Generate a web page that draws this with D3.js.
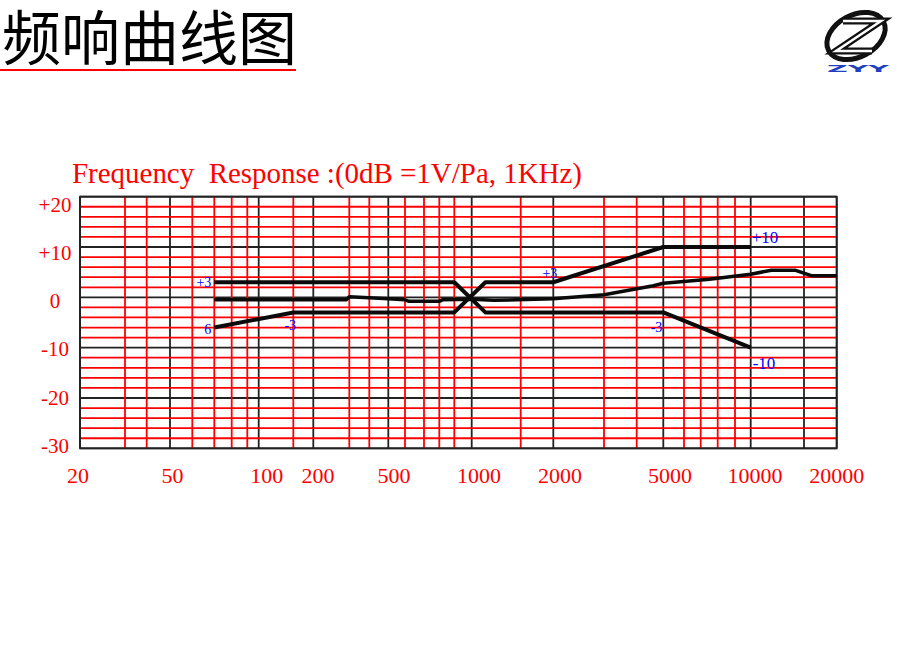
<!DOCTYPE html>
<html><head><meta charset="utf-8">
<script src="https://cdn.jsdelivr.net/npm/d3@7/dist/d3.min.js"></script>
<style>
html,body{margin:0;padding:0;background:#fff;}
svg{display:block;}
</style></head>
<body>
<script>
// ---------------- DATA ----------------
const pageTitle = "频响曲线图";
const chartTitle = "Frequency  Response :(0dB =1V/Pa, 1KHz)";
const logoText = "ZYY";

// x tick labels (Hz)
const xTickLabels = [20, 50, 100, 200, 500, 1000, 2000, 5000, 10000, 20000];
// y tick labels (dB)
const yTicks = [20, 10, 0, -10, -20, -30];
const yTickLabels = ["+20", "+10", "0", "-10", "-20", "-30"];

// vertical grid frequencies: major (black) and minor (red)
const gridFreqs = [20, 30, 40, 50, 60, 70, 80, 90, 100, 150, 200, 300, 400, 500, 600, 700, 800, 900,
  1000, 1500, 2000, 3000, 4000, 5000, 6000, 7000, 8000, 9000, 10000, 15000, 20000];
const majorFreqs = [20, 50, 100, 200, 500, 1000, 2000, 5000, 10000, 15000, 20000];
// horizontal grid every 2 dB, black every 10 dB
const gridDb = d3.range(-30, 21, 2);

// tolerance line A (starts +3, ends -10)
const lineAFreq = [70, 900, 1120, 5000, 10000];
const lineADb   = [3, 3, -3, -3, -10];
// tolerance line B (starts -6, ends +10)
const lineBFreq = [70, 150, 900, 1120, 2000, 5000, 10000];
const lineBDb   = [-6, -3, -3, 3, 3, 10, 10];
// measured response
const respFreq = [70, 290, 300, 500, 600, 620, 800, 820, 1000, 1200, 2000, 3000, 4600, 5000, 7500, 10000, 11700, 14000, 16000, 20000];
const respDb   = [-0.5, -0.5, 0.1, -0.3, -0.5, -0.8, -0.8, -0.5, -0.4, -0.6, -0.3, 0.5, 2.3, 2.8, 3.6, 4.6, 5.4, 5.4, 4.3, 4.3];

// blue annotations
const noteText = ["+3", "6", "-3", "+3", "+10", "-3", "-10"];
const noteFreq = [70, 70, 150, 2000, 10000, 5000, 10000];
const noteDb   = [3, -6, -3, 3, 10, -3, -10];

// ---------------- LAYOUT ----------------
const W = 899, H = 663;
const plot = {left: 80, right: 836.7, top: 196.7, bottom: 448.3};
// pixel position of each vertical grid line in the (non-uniform) printed grid
const gridPx = [80, 125, 146.7, 170, 192.3, 214.3, 231.7, 247.3, 258.7, 293.3, 313.3, 349.3, 369.3, 388.3,
  405, 424, 439.3, 454.3, 471.7, 520.7, 553.3, 604, 636.7, 663.3, 684, 700.7, 717.7, 735, 750.7, 804, 836.7];
// x label horizontal nudges
const xLabelDx = [-2, 2.5, 8, 4.7, 5.7, 7.3, 6.7, 6.7, 4.3, 0];
// note label offsets [dx, dy, anchor, size]
const noteStyle = [[-3, 5, "end", 14], [-3, 6, "end", 14], [-3, 18, "middle", 14], [4, -4, "end", 14],
  [1, -4, "start", 17], [-1, 20, "end", 14], [2, 21, "start", 17]];

const svg = d3.select("body").append("svg").attr("width", W).attr("height", H);

const x = d3.scaleLog().domain(gridFreqs).range(gridPx);
const y = d3.scaleLinear().domain([-30, 20]).range([plot.bottom, plot.top]);
const yLab = d3.scaleLinear().domain([-30, 20]).range([453, 211.7]);

// page title
svg.append("text").attr("x", 2).attr("y", 60)
  .attr("font-family", "'Noto Sans CJK SC', sans-serif").attr("font-size", 59)
  .attr("fill", "#000").text(pageTitle);
svg.append("line").attr("x1", 0).attr("x2", 296).attr("y1", 70).attr("y2", 70)
  .attr("stroke", "#ff0000").attr("stroke-width", 2);

// logo
const logo = svg.append("g");
logo.append("ellipse").attr("cx", 856).attr("cy", 36).attr("rx", 31).attr("ry", 21)
  .attr("transform", "rotate(-28 856 36)")
  .attr("fill", "none").attr("stroke", "#111").attr("stroke-width", 5);
const zPath = "M843,21 L881,21 L836,51 L872,51";
logo.append("path").attr("d", zPath).attr("fill", "none").attr("stroke", "#111")
  .attr("stroke-width", 7).attr("stroke-linejoin", "miter");
logo.append("path").attr("d", zPath).attr("fill", "none").attr("stroke", "#fff")
  .attr("stroke-width", 2.5).attr("stroke-linejoin", "miter");
logo.append("text").attr("x", 827).attr("y", 72)
  .attr("font-family", "'DejaVu Sans', sans-serif").attr("font-weight", "bold").attr("font-size", 9)
  .attr("textLength", 62).attr("lengthAdjust", "spacingAndGlyphs")
  .attr("fill", "#2040c0").text(logoText);

// chart title
svg.append("text").attr("x", 72).attr("y", 183.3)
  .attr("font-family", "'Liberation Serif', 'Times New Roman', serif").attr("font-size", 28.5)
  .attr("fill", "#ff0000").style("white-space", "pre")
  .attr("textLength", 510).attr("lengthAdjust", "spacingAndGlyphs")
  .text(chartTitle);

// grid
const g = svg.append("g");
const isMajorDb = d => d % 10 === 0;
g.selectAll(".vmaj").data(gridFreqs.filter(f => majorFreqs.includes(f))).enter().append("line")
  .attr("x1", d => x(d)).attr("x2", d => x(d)).attr("y1", plot.top).attr("y2", plot.bottom)
  .attr("stroke", "#222").attr("stroke-width", 1.8);
g.selectAll(".hmaj").data(gridDb.filter(isMajorDb)).enter().append("line")
  .attr("x1", plot.left).attr("x2", plot.right).attr("y1", d => y(d)).attr("y2", d => y(d))
  .attr("stroke", "#222").attr("stroke-width", 1.8);
g.selectAll(".vmin").data(gridFreqs.filter(f => !majorFreqs.includes(f))).enter().append("line")
  .attr("x1", d => x(d)).attr("x2", d => x(d)).attr("y1", plot.top).attr("y2", plot.bottom)
  .attr("stroke", "#ff0000").attr("stroke-width", 1.8);
g.selectAll(".hmin").data(gridDb.filter(d => !isMajorDb(d))).enter().append("line")
  .attr("x1", plot.left).attr("x2", plot.right).attr("y1", d => y(d)).attr("y2", d => y(d))
  .attr("stroke", "#ff0000").attr("stroke-width", 1.8);
g.append("rect").attr("x", plot.left).attr("y", plot.top)
  .attr("width", plot.right - plot.left).attr("height", plot.bottom - plot.top)
  .attr("fill", "none").attr("stroke", "#222").attr("stroke-width", 1.8);

// axis labels
const serif = "'Liberation Serif', 'Times New Roman', serif";
svg.selectAll(".xl").data(xTickLabels).enter().append("text")
  .attr("x", (d, i) => x(d) + xLabelDx[i]).attr("y", 483)
  .attr("text-anchor", "middle").attr("font-family", serif).attr("font-size", 22)
  .attr("fill", "#ff0000").text(d => d);
svg.selectAll(".yl").data(yTicks).enter().append("text")
  .attr("x", 55).attr("y", d => yLab(d))
  .attr("text-anchor", "middle").attr("font-family", serif).attr("font-size", 21)
  .attr("fill", "#ff0000").text((d, i) => yTickLabels[i]);

// curves
const line = d3.line().x(d => x(d[0])).y(d => y(d[1]));
const curves = [
  {f: lineAFreq, v: lineADb, w: 4},
  {f: lineBFreq, v: lineBDb, w: 4},
  {f: respFreq, v: respDb, w: 3.5}
];
svg.selectAll(".curve").data(curves).enter().append("path")
  .attr("d", c => line(c.f.map((f, i) => [f, c.v[i]])))
  .attr("fill", "none").attr("stroke", "#0a0a0a")
  .attr("stroke-width", c => c.w).attr("stroke-linejoin", "round");

// annotations
svg.selectAll(".note").data(noteText).enter().append("text")
  .attr("x", (d, i) => x(noteFreq[i]) + noteStyle[i][0])
  .attr("y", (d, i) => y(noteDb[i]) + noteStyle[i][1])
  .attr("text-anchor", (d, i) => noteStyle[i][2])
  .attr("font-size", (d, i) => noteStyle[i][3])
  .attr("font-family", serif).attr("fill", "#0000ff").text(d => d);
</script>
</body></html>
